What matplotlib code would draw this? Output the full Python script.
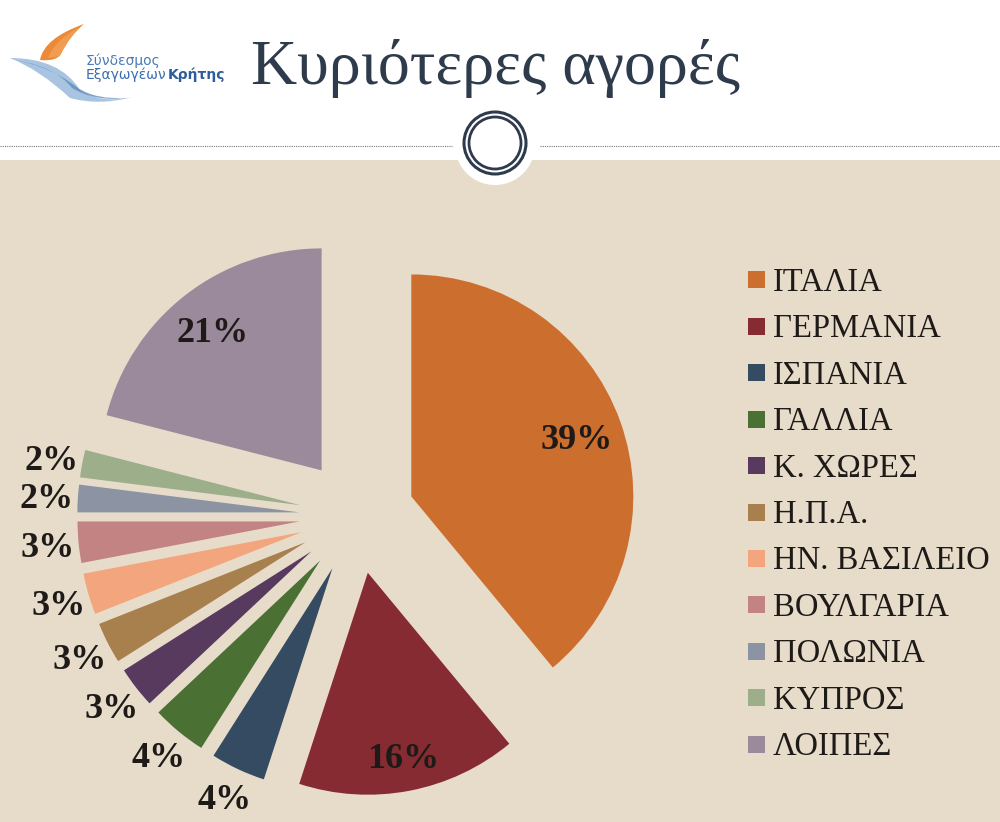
import matplotlib
matplotlib.use("Agg")
import matplotlib.pyplot as plt
import numpy as np
from matplotlib.patches import Rectangle, Circle, PathPatch
from matplotlib.path import Path

# ---- data ----
categories = ["ΙΤΑΛΙΑ", "ΓΕΡΜΑΝΙΑ", "ΙΣΠΑΝΙΑ", "ΓΑΛΛΙΑ", "Κ. ΧΩΡΕΣ", "Η.Π.Α.",
              "ΗΝ. ΒΑΣΙΛΕΙΟ", "ΒΟΥΛΓΑΡΙΑ", "ΠΟΛΩΝΙΑ", "ΚΥΠΡΟΣ", "ΛΟΙΠΕΣ"]
values = [39, 16, 4, 4, 3, 3, 3, 3, 2, 2, 21]
pct_labels = ["39%", "16%", "4%", "4%", "3%", "3%", "3%", "3%", "2%", "2%", "21%"]
colors = ["#CC6E2E", "#862B31", "#344B61", "#4B7034", "#573A5E", "#A8804E",
          "#F3A57E", "#C28382", "#8C94A3", "#9CAE8A", "#9B8A9B"]
title = "Κυριότερες αγορές"

W, H = 1000, 822
BEIGE = "#E7DCCA"
DARK = "#2E3B4C"
SERIF = ["Liberation Serif", "DejaVu Serif"]
R = 222

def Y(y):  # top-down pixel -> axes coords
    return H - y

fig = plt.figure(figsize=(10, 8.22), dpi=100)
fig.patch.set_facecolor("white")
ax = fig.add_axes([0, 0, 1, 1])
ax.set_xlim(0, W)
ax.set_ylim(0, H)

# background bands
ax.add_patch(Rectangle((0, 0), W, Y(160), facecolor=BEIGE, edgecolor="none", zorder=0))
# dotted line
ax.plot([0, 452], [Y(146), Y(146)], color="#777777", lw=0.8, ls=(0, (1, 1)), zorder=1)
ax.plot([540, W], [Y(146), Y(146)], color="#777777", lw=0.8, ls=(0, (1, 1)), zorder=1)
# ornament
ax.add_patch(Circle((495, Y(145)), 40, facecolor="white", edgecolor="none", zorder=2))
ax.add_patch(Circle((495, Y(143)), 31, facecolor="none", edgecolor=DARK, lw=2.2, zorder=3))
ax.add_patch(Circle((495, Y(143)), 26, facecolor="none", edgecolor=DARK, lw=2.0, zorder=3))

# title
ax.text(251, Y(84), title, fontsize=46, family=SERIF, color=DARK, ha="left", va="baseline", zorder=3)

# logo (approximation)
def path_patch(pts, codes, **kw):
    p = Path([(x, Y(y)) for x, y in pts], codes)
    return PathPatch(p, **kw)

C3 = Path.CURVE3
orange_pts = [(40, 60), (44, 38), (84, 24), (84, 24), (70, 36), (62, 52), (58, 62), (40, 60), (40, 60)]
orange_codes = [Path.MOVETO, C3, C3, Path.LINETO, C3, C3, C3, C3, Path.CLOSEPOLY]
ax.add_patch(path_patch(orange_pts, orange_codes, facecolor="#EC8A3A", edgecolor="none", zorder=3))
ax.add_patch(path_patch([(48, 58), (55, 40), (80, 27), (80, 27), (66, 40), (60, 56), (48, 58)],
                        [Path.MOVETO, C3, C3, Path.LINETO, C3, C3, Path.CLOSEPOLY],
                        facecolor="#F4A65C", edgecolor="none", alpha=0.7, zorder=3))
blue_pts = [(10, 58), (60, 58), (80, 90), (100, 104), (132, 97), (100, 106), (70, 98), (40, 70), (10, 58), (10, 58)]
blue_codes = [Path.MOVETO, C3, C3, C3, C3, C3, C3, C3, C3, Path.CLOSEPOLY]
ax.add_patch(path_patch(blue_pts, blue_codes, facecolor="#A9C4E0", edgecolor="none", zorder=3))
blue2_pts = [(14, 60), (55, 66), (72, 88), (95, 102), (128, 98), (96, 100), (78, 88), (50, 66), (14, 60), (14, 60)]
ax.add_patch(path_patch(blue2_pts, blue_codes, facecolor="#5F8DC0", edgecolor="none", alpha=0.8, zorder=3))
ax.text(86, Y(65), "Σύνδεσμος", fontsize=10, family=["DejaVu Sans"], color="#4A7DB8",
        ha="left", va="baseline", zorder=4)
t1 = ax.text(86, Y(79), "Εξαγωγέων", fontsize=10, family=["DejaVu Sans"], color="#3A6DB0",
             ha="left", va="baseline", zorder=4)
fig.canvas.draw()
renderer = fig.canvas.get_renderer()
bb = t1.get_window_extent(renderer)
x_end = ax.transData.inverted().transform((bb.x1, bb.y1))[0]
ax.text(x_end + 1, Y(79), "Κρήτης", fontsize=10, family=["DejaVu Sans"], weight="bold",
        color="#2F5C9A", ha="left", va="baseline", zorder=4)

# pie
wedges, _ = ax.pie(values, colors=colors, startangle=90, counterclock=False,
                   explode=[0.26 * R] * len(values), radius=R, center=(357, Y(516)),
                   wedgeprops=dict(linewidth=0), frame=False)
for w in wedges:
    w.set_zorder(4)

inside = {0: 0.79, 1: 0.84, 10: 0.80}
for i, w in enumerate(wedges):
    th = np.deg2rad((w.theta1 + w.theta2) / 2)
    cx, cy = w.center
    d = inside.get(i, 1.14)
    x = cx + d * w.r * np.cos(th)
    y = cy + d * w.r * np.sin(th)
    ax.text(x, y - 12, pct_labels[i], fontsize=26, family=SERIF, weight="bold",
            color="#1E1A18", ha="center", va="baseline", zorder=5)

# legend
for i, (lab, col) in enumerate(zip(categories, colors)):
    yc = 280 + i * 46.4
    ax.add_patch(Rectangle((748, Y(yc + 8.5)), 17, 17, facecolor=col, edgecolor="none", zorder=5))
    ax.text(773, Y(yc + 11), lab, fontsize=23.5, family=SERIF, color="#1E1A18",
            ha="left", va="baseline", zorder=5)

ax.set_xlim(0, W)
ax.set_ylim(0, H)
ax.set_aspect("auto")
ax.axis("off")
fig.savefig("out.png", dpi=100, facecolor="white")
